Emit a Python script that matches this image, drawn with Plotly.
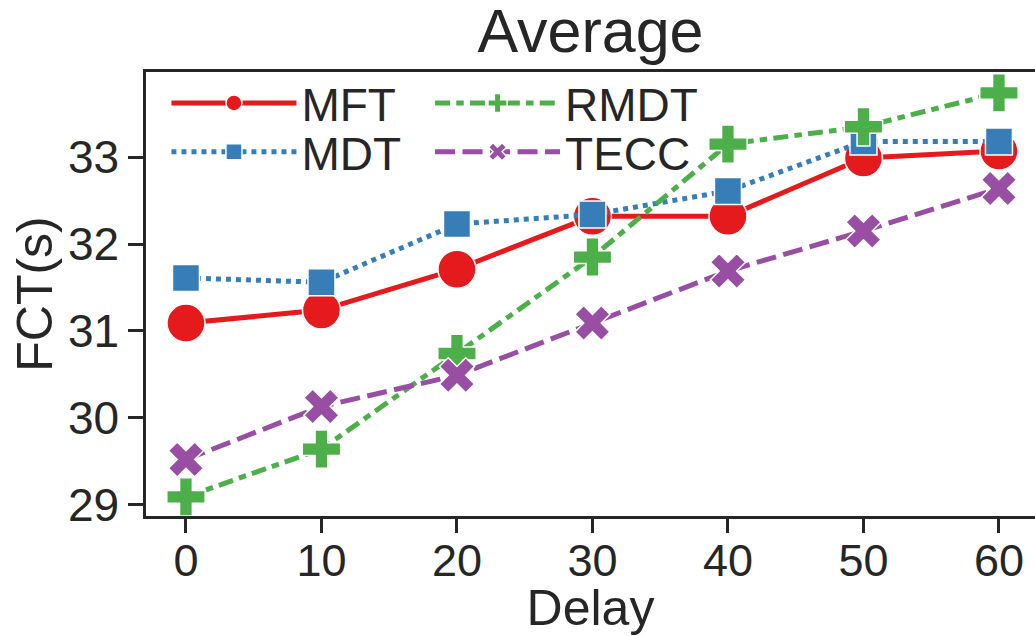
import plotly.graph_objects as go

delay = [0, 10, 20, 30, 40, 50, 60]
mft = [31.09, 31.24, 31.71, 32.32, 32.32, 32.99, 33.07]
mdt = [31.61, 31.56, 32.23, 32.34, 32.61, 33.18, 33.18]
rmdt = [29.09, 29.64, 30.74, 31.85, 33.15, 33.35, 33.74]
tecc = [29.52, 30.13, 30.49, 31.09, 31.69, 32.15, 32.64]

FONT = "Liberation Sans, Arial, sans-serif"
TXT = "#262626"
LW = 5

series = [
    # name, values, color, dash, symbol, size, legend
    ("MFT", mft, "#e41a1c", "solid", "circle", 38, "legend"),
    ("MDT", mdt, "#377eb8", "5px,5px", "square", 27, "legend2"),
    ("RMDT", rmdt, "#4daf4a", "15px,6.2px,7.5px,6.2px", "cross", 32, "legend3"),
    ("TECC", tecc, "#984ea3", "20px,7.5px", "x", 31, "legend4"),
]

fig = go.Figure()
for name, vals, color, dash, sym, size, leg in series:
    fig.add_trace(go.Scatter(
        x=delay, y=vals, name=name, mode="lines+markers",
        line=dict(color=color, width=LW, dash=dash),
        marker=dict(symbol=sym, size=size, color=color,
                    line=dict(color="white", width=1.5)),
        legend=leg, showlegend=True,
    ))

def leg(x, y):
    return dict(x=x, y=y, xanchor="left", yanchor="middle",
                bgcolor="rgba(0,0,0,0)", borderwidth=0, itemwidth=125,
                font=dict(family=FONT, size=46, color=TXT))

fig.update_layout(
    width=1035, height=636,
    showlegend=True,
    margin=dict(l=146, r=0, t=72, b=120),
    paper_bgcolor="white", plot_bgcolor="white",
    font=dict(family=FONT, color=TXT),
    title=dict(text="Average", x=0.5, xref="paper", y=1 - 31 / 636,
               yref="container", xanchor="center", yanchor="middle",
               font=dict(family=FONT, size=61, color=TXT)),
    legend=leg(0.023, 0.93),
    legend2=leg(0.023, 0.82),
    legend3=leg(0.3195, 0.93),
    legend4=leg(0.3195, 0.82),
    xaxis=dict(range=[-2.95, 62.66], tickvals=delay,
               showline=True, linecolor=TXT, linewidth=2.5, mirror=True,
               ticks="outside", ticklen=14, tickwidth=2.5, tickcolor=TXT,
               showgrid=False, zeroline=False, ticklabelstandoff=-11,
               tickfont=dict(family=FONT, size=45, color=TXT),
               title=dict(text="Delay", standoff=0,
                          font=dict(family=FONT, size=50, color=TXT))),
    yaxis=dict(range=[28.87, 33.98], tickvals=[29, 30, 31, 32, 33],
               showline=True, linecolor=TXT, linewidth=2.5,
               ticks="outside", ticklen=15, tickwidth=2.5, tickcolor=TXT,
               showgrid=False, zeroline=False,
               tickfont=dict(family=FONT, size=46, color=TXT),
               title=dict(text="FCT(s)", standoff=0,
                          font=dict(family=FONT, size=50, color=TXT))),
)

fig.write_html("out.html")
